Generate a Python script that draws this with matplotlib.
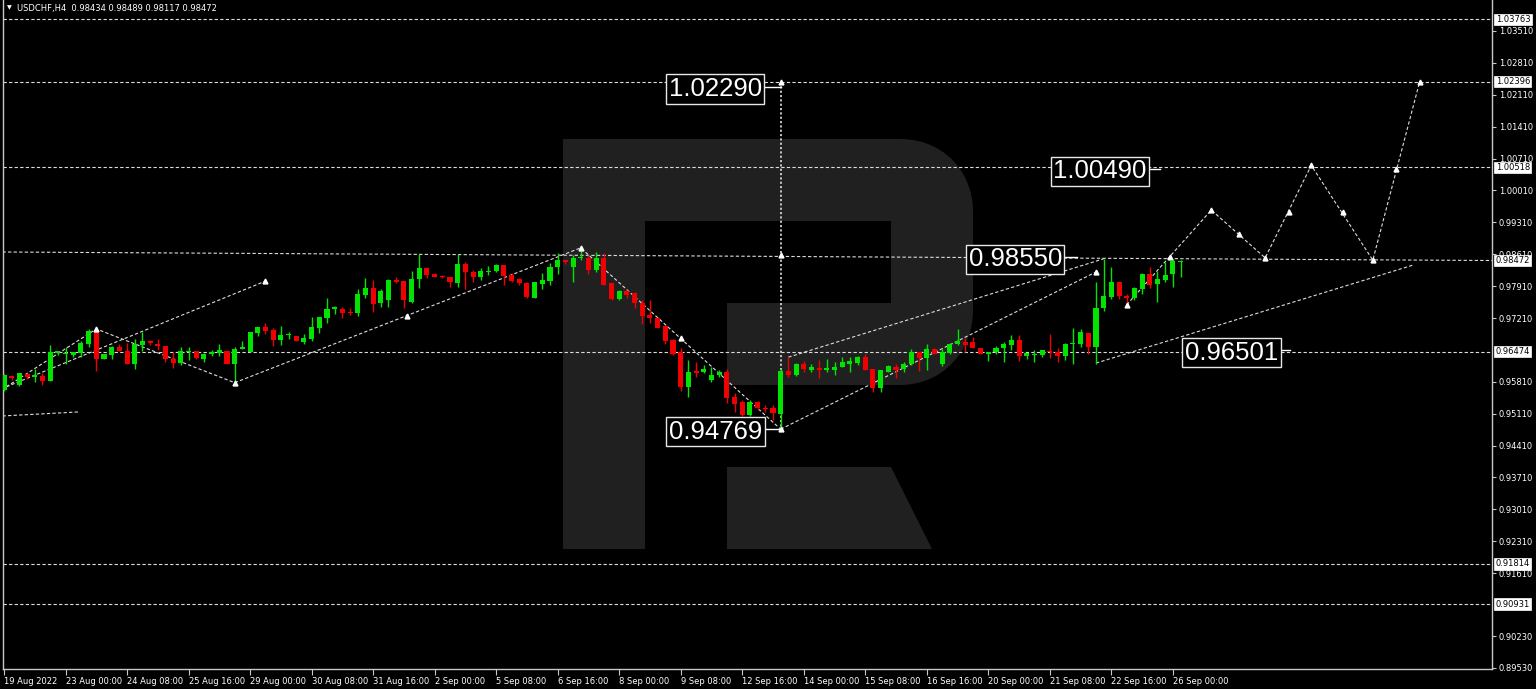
import matplotlib
matplotlib.use("Agg")
import matplotlib.pyplot as plt
import matplotlib.transforms as mtransforms
from matplotlib.path import Path
from matplotlib.patches import PathPatch

# ---------------- data ----------------
opens = [0.9562,0.9594,0.9573,0.9599,0.9591,0.9593,0.9583,0.9645,0.9642,0.9640,
         0.9645,0.9665,0.9692,0.9631,0.9639,0.9657,0.9649,0.9621,0.9662,0.9670,
         0.9665,0.9660,0.9632,0.9623,0.9646,0.9649,0.9631,0.9643,0.9644,0.9649,
         0.9621,0.9652,0.9646,0.9689,0.9701,0.9695,0.9673,0.9683,0.9682,0.9669,
         0.9676,0.9700,0.9722,0.9741,0.9741,0.9735,0.9731,0.9772,0.9787,0.9753,
         0.9760,0.9804,0.9802,0.9757,0.9806,0.9831,0.9817,0.9812,0.9811,0.9797,
         0.9839,0.9821,0.9810,0.9823,0.9824,0.9837,0.9816,0.9806,0.9798,0.9766,
         0.9796,0.9803,0.9832,0.9848,0.9832,0.9852,0.9853,0.9826,0.9853,0.9797,
         0.9762,0.9781,0.9775,0.9755,0.9728,0.9722,0.9703,0.9672,0.9647,0.9570,
         0.9604,0.9602,0.9585,0.9597,0.9603,0.9548,0.9537,0.9508,0.9537,0.9524,
         0.9523,0.9510,0.9605,0.9596,0.9619,0.9607,0.9612,0.9606,0.9607,0.9613,
         0.9619,0.9623,0.9636,0.9608,0.9568,0.9603,0.9614,0.9609,0.9621,0.9646,
         0.9634,0.9654,0.9621,0.9645,0.9663,0.9668,0.9669,0.9655,0.9641,0.9646,
         0.9655,0.9662,0.9673,0.9638,0.9640,0.9640,0.9649,0.9647,0.9638,0.9664,
         0.9665,0.9689,0.9658,0.9744,0.9768,0.9801,0.9769,0.9764,0.9785,0.9817,
         0.9795,0.9805,0.9817,0.98434]
highs = [0.9599,0.9596,0.9601,0.9600,0.9608,0.9601,0.9661,0.9649,0.9657,0.9646,
         0.9671,0.9696,0.9696,0.9641,0.9660,0.9663,0.9666,0.9675,0.9691,0.9672,
         0.9674,0.9660,0.9647,0.9657,0.9657,0.9649,0.9645,0.9650,0.9663,0.9649,
         0.9658,0.9670,0.9690,0.9701,0.9709,0.9698,0.9703,0.9690,0.9682,0.9686,
         0.9724,0.9724,0.9764,0.9747,0.9745,0.9742,0.9784,0.9809,0.9804,0.9784,
         0.9806,0.9810,0.9802,0.9825,0.9861,0.9833,0.9820,0.9815,0.9812,0.9861,
         0.9845,0.9826,0.9830,0.9835,0.9840,0.9838,0.9819,0.9808,0.9801,0.9801,
         0.9819,0.9841,0.9863,0.9849,0.9859,0.9870,0.9859,0.9865,0.9863,0.9798,
         0.9782,0.9783,0.9779,0.9760,0.9760,0.9724,0.9703,0.9674,0.9656,0.9628,
         0.9625,0.9617,0.9614,0.9606,0.9610,0.9556,0.9540,0.9540,0.9538,0.9530,
         0.9530,0.9608,0.9636,0.9622,0.9626,0.9621,0.9629,0.9632,0.9625,0.9636,
         0.9636,0.9638,0.9643,0.9608,0.9607,0.9618,0.9621,0.9625,0.9654,0.9646,
         0.9663,0.9656,0.9654,0.9667,0.9696,0.9677,0.9680,0.9656,0.9647,0.9660,
         0.9668,0.9684,0.9684,0.9645,0.9651,0.9651,0.9686,0.9656,0.9667,0.9700,
         0.9696,0.9689,0.9801,0.9851,0.9832,0.9801,0.9773,0.9790,0.9819,0.9834,
         0.9824,0.9845,0.9851,0.98489]
lows = [0.9560,0.9585,0.9572,0.9587,0.9581,0.9575,0.9583,0.9640,0.9621,0.9636,
        0.9636,0.9658,0.9605,0.9630,0.9631,0.9648,0.9621,0.9609,0.9648,0.9661,
        0.9651,0.9625,0.9612,0.9617,0.9628,0.9630,0.9625,0.9638,0.9638,0.9621,
        0.9579,0.9652,0.9646,0.9682,0.9686,0.9660,0.9662,0.9675,0.9670,0.9665,
        0.9670,0.9689,0.9711,0.9729,0.9722,0.9727,0.9726,0.9766,0.9735,0.9746,
        0.9746,0.9797,0.9744,0.9753,0.9786,0.9809,0.9810,0.9809,0.9788,0.9790,
        0.9784,0.9801,0.9805,0.9815,0.9822,0.9793,0.9799,0.9794,0.9766,0.9764,
        0.9784,0.9793,0.9818,0.9840,0.9801,0.9848,0.9817,0.9823,0.9793,0.9760,
        0.9760,0.9766,0.9742,0.9708,0.9709,0.9698,0.9665,0.9640,0.9561,0.9548,
        0.9592,0.9600,0.9581,0.9592,0.9534,0.9515,0.9505,0.9505,0.9520,0.9515,
        0.9497,0.94769,0.9592,0.9594,0.9603,0.9602,0.9590,0.9602,0.9596,0.9613,
        0.9602,0.9618,0.9607,0.9558,0.9558,0.9602,0.9590,0.9602,0.9618,0.9605,
        0.9607,0.9642,0.9616,0.9641,0.9662,0.9647,0.9655,0.9642,0.9627,0.9641,
        0.9624,0.9651,0.9627,0.9630,0.9624,0.9636,0.9634,0.9625,0.9629,0.9621,
        0.9658,0.9641,0.9621,0.9736,0.9763,0.9763,0.9750,0.9761,0.9773,0.9786,
        0.9757,0.9801,0.9788,0.98117]
closes = [0.9596,0.9589,0.9600,0.9591,0.9595,0.9583,0.9646,0.9649,0.9643,0.9646,
          0.9667,0.9692,0.9631,0.9641,0.9657,0.9648,0.9621,0.9665,0.9670,0.9667,
          0.9660,0.9631,0.9623,0.9649,0.9649,0.9634,0.9643,0.9646,0.9651,0.9621,
          0.9654,0.9658,0.9690,0.9701,0.9692,0.9673,0.9684,0.9684,0.9671,0.9678,
          0.9701,0.9724,0.9741,0.9746,0.9733,0.9732,0.9773,0.9787,0.9752,0.9780,
          0.9804,0.9801,0.9760,0.9806,0.9831,0.9815,0.9812,0.9811,0.9801,0.9839,
          0.9821,0.9810,0.9824,0.9825,0.9837,0.9813,0.9803,0.9797,0.9768,0.9799,
          0.9804,0.9834,0.9848,0.9843,0.9852,0.9856,0.9826,0.9853,0.9793,0.9762,
          0.9781,0.9771,0.9753,0.9725,0.9720,0.9700,0.9671,0.9643,0.9570,0.9603,
          0.9601,0.9608,0.9597,0.9603,0.9545,0.9533,0.9508,0.9537,0.9523,0.9522,
          0.9512,0.9605,0.9596,0.9620,0.9609,0.9614,0.9607,0.9612,0.9614,0.9625,
          0.9627,0.9636,0.9607,0.9568,0.9607,0.9616,0.9607,0.9621,0.9647,0.9634,
          0.9654,0.9643,0.9647,0.9665,0.9670,0.9662,0.9655,0.9643,0.9647,0.9656,
          0.9663,0.9673,0.9638,0.9645,0.9643,0.9650,0.9646,0.9638,0.9665,0.9667,
          0.9691,0.9658,0.9744,0.9770,0.9801,0.9770,0.9766,0.9786,0.9817,0.9793,
          0.9807,0.9815,0.9846,0.98472]

x_tick_idx = [0, 8, 16, 24, 32, 40, 48, 56, 64, 72, 80, 88, 96, 104, 112, 120, 128, 136, 144, 152]
x_tick_labels = ["19 Aug 2022", "23 Aug 00:00", "24 Aug 08:00", "25 Aug 16:00", "29 Aug 00:00",
                 "30 Aug 08:00", "31 Aug 16:00", "2 Sep 00:00", "5 Sep 08:00", "6 Sep 16:00",
                 "8 Sep 00:00", "9 Sep 08:00", "12 Sep 16:00", "14 Sep 00:00", "15 Sep 08:00",
                 "16 Sep 16:00", "20 Sep 00:00", "21 Sep 08:00", "22 Sep 16:00", "26 Sep 00:00"]
y_tick_values = [1.03510, 1.02810, 1.02110, 1.01410, 1.00710, 1.00010, 0.99310, 0.98610,
                 0.97910, 0.97210, 0.95810, 0.95110, 0.94410, 0.93710, 0.93010, 0.92310,
                 0.91610, 0.90230, 0.89530]
y_tick_labels = ["1.03510", "1.02810", "1.02110", "1.01410", "1.00710", "1.00010", "0.99310",
                 "0.98610", "0.97910", "0.97210", "0.95810", "0.95110", "0.94410", "0.93710",
                 "0.93010", "0.92310", "0.91610", "0.90230", "0.89530"]

# horizontal levels (with their price tags on the axis)
level_prices = [1.03763, 1.02396, 1.00518, 0.96474, 0.91814, 0.90931]
level_tags = ["1.03763", "1.02396", "1.00518", "0.96474", "0.91814", "0.90931"]
current_tag = ("0.98472", 0.98472)

# trend / wave lines: (x idx list, price list)
wave_past_x = [0.3, 12, 30, 75, 101]
wave_past_y = [0.9570, 0.9697, 0.9579, 0.9875, 0.94769]
channel1_x = [0.3, 34]
channel1_y = [0.9570, 0.9802]
low_line_x = [101, 142]
low_line_y = [0.94769, 0.9822]
upper_line_x = [102, 143]
upper_line_y = [0.9635, 0.9851]
lower_right_x = [142, 183.2]
lower_right_y = [0.9622, 0.9837]
flat_top_x = [-0.2, 193.6]
flat_top_y = [0.98659, 0.98472]
old_line_x = [-0.2, 9.9]
old_line_y = [0.9506, 0.9515]
forecast_x = [146, 157, 164, 170, 178, 184.1]
forecast_y = [0.9750, 0.9958, 0.9853, 1.0056, 0.9848, 1.0240]
vline_x = 101
vline_y = [1.0240, 0.94769]

arrow_x = [12, 30, 52.4, 75, 88, 101, 34, 142, 101, 101, 146, 151.6, 157, 160.6, 164,
           167.1, 170, 174.1, 178, 181, 184.1]
arrow_y = [0.9697, 0.9579, 0.9725, 0.9875, 0.9678, 0.94769, 0.9802, 0.9822, 0.9859, 1.0240,
           0.9750, 0.9855, 0.9958, 0.9905, 0.9853, 0.9954, 1.0056, 0.9954, 0.9848, 1.0048, 1.0240]

# big boxed labels: text, box-centre x idx, price, pointer x idx
big_labels = [("1.02290", 92.5, 1.02290, 101.0),
              ("0.94769", 92.5, 0.94769, 101.0),
              ("0.98550", 131.5, 0.98550, 139.5),
              ("1.00490", 142.5, 1.00490, 150.3),
              ("0.96501", 159.6, 0.96501, 167.2)]

title = "USDCHF,H4  0.98434 0.98489 0.98117 0.98472"

# ---------------- figure ----------------
W, H = 1536, 689
fig = plt.figure(figsize=(W / 100, H / 100), dpi=100, facecolor="black")
ax = fig.add_axes([3 / W, 20 / H, (1492 - 3) / W, 669 / H])
ax.set_facecolor("black")
ax.set_xlim(-0.13, 193.5)
ax.set_ylim(0.89506, 1.04190)

BULL = "#00e400"
BEAR = "#f00000"
LINE = "#dcdcdc"
DASH = (0, (3, 2))

# watermark logo (figure pixel coordinates -> figure fraction)
def fx(x):
    return x / W

def fy(y):
    return 1 - y / H

logo_pts = [(563, 139), (900, 139), (942, 139), (973, 170), (973, 212), (973, 310),
            (973, 352), (942, 385), (900, 385), (727, 385), (727, 303), (891, 303),
            (891, 221), (645, 221), (645, 549), (563, 549), (563, 139)]
logo_codes = [Path.MOVETO, Path.LINETO, Path.CURVE4, Path.CURVE4, Path.CURVE4, Path.LINETO,
              Path.CURVE4, Path.CURVE4, Path.CURVE4, Path.LINETO, Path.LINETO, Path.LINETO,
              Path.LINETO, Path.LINETO, Path.LINETO, Path.LINETO, Path.CLOSEPOLY]
p1 = Path([(fx(a), fy(b)) for a, b in logo_pts], logo_codes)
leg_pts = [(727, 467), (891, 467), (932, 549), (727, 549), (727, 467)]
p2 = Path([(fx(a), fy(b)) for a, b in leg_pts],
          [Path.MOVETO, Path.LINETO, Path.LINETO, Path.LINETO, Path.CLOSEPOLY])
for p in (p1, p2):
    ax.add_patch(PathPatch(p, transform=fig.transFigure, fc="#202020", ec="none", zorder=0.2))

# horizontal levels
for pr in level_prices:
    ax.axhline(pr, color=LINE, lw=0.8, ls=DASH, zorder=1)

# lines
dash_kw = dict(color=LINE, lw=0.8, ls=DASH, zorder=1.5)
ax.plot(flat_top_x, flat_top_y, **dash_kw)
ax.plot(old_line_x, old_line_y, **dash_kw)
ax.plot(wave_past_x, wave_past_y, **dash_kw)
ax.plot(channel1_x, channel1_y, **dash_kw)
ax.plot(low_line_x, low_line_y, **dash_kw)
ax.plot(upper_line_x, upper_line_y, **dash_kw)
ax.plot(lower_right_x, lower_right_y, **dash_kw)
ax.plot(forecast_x, forecast_y, **dash_kw)
ax.plot([vline_x, vline_x], vline_y, color="#cfcfcf", lw=1.3, ls=(0, (1.2, 1.2)), zorder=1.5)

# candles
idx = list(range(len(opens)))
for i in idx:
    o, h, l, c = opens[i], highs[i], lows[i], closes[i]
    col = BULL if c >= o else BEAR
    ax.plot([i, i], [l, h], color=col, lw=1.0, solid_capstyle="butt", zorder=3)
    lo = min(o, c)
    hgt = max(abs(c - o), 0.00022)
    ax.bar(i, hgt, bottom=lo, width=0.66, color=col, linewidth=0, zorder=3.2)

# arrow markers
ax.plot(arrow_x, arrow_y, ls="none", marker="^", ms=3.5, color="white", zorder=4)

# big boxed labels
for txt, cx, pr, px in big_labels:
    ax.plot([cx + 6.3, px], [pr, pr], color="white", lw=1.0, zorder=4)
    ax.text(cx, pr, txt, ha="center", va="center_baseline", fontsize=18.5, color="white",
            family="Liberation Sans", zorder=5,
            bbox=dict(boxstyle="square,pad=0.1", fc="black", ec="#e8e8e8", lw=1.0))

# spines / axes
for s in ("top",):
    ax.spines[s].set_visible(False)
for s in ("left", "right", "bottom"):
    ax.spines[s].set_color("#c8c8c8")
    ax.spines[s].set_linewidth(1.0)

ax.yaxis.tick_right()
ax.set_yticks(y_tick_values)
ax.set_yticklabels(y_tick_labels)
ax.set_xticks(x_tick_idx)
ax.set_xticklabels(x_tick_labels)
ax.tick_params(axis="y", which="both", length=3, width=0.8, color="#c8c8c8",
               labelcolor="white", labelsize=6, pad=2, left=False)
ax.tick_params(axis="x", which="both", length=4, width=0.8, color="#c8c8c8",
               labelcolor="white", labelsize=6, pad=1.5, direction="out")
for lab in ax.get_xticklabels():
    lab.set_horizontalalignment("left")
    lab.set_family("DejaVu Sans")
for lab in ax.get_yticklabels():
    lab.set_family("DejaVu Sans")

# price tags on the axis
tag_tr = mtransforms.blended_transform_factory(ax.transAxes, ax.transData)
for txt, pr in list(zip(level_tags, level_prices)) + [current_tag]:
    ax.text(1.0025, pr, txt, transform=tag_tr, ha="left", va="center", fontsize=6,
            color="black", family="DejaVu Sans", clip_on=False, zorder=6,
            bbox=dict(boxstyle="square,pad=0.15", fc="white", ec="white", lw=0.5))

# title
ax.text(0.0025, 0.988, "\u25bc", transform=ax.transAxes, ha="left", va="center",
        fontsize=4.5, color="white", family="DejaVu Sans")
ax.text(0.0095, 0.988, title, transform=ax.transAxes, ha="left", va="center",
        fontsize=6, color="white", family="DejaVu Sans")

fig.savefig("out.png", dpi=100, facecolor="black")
